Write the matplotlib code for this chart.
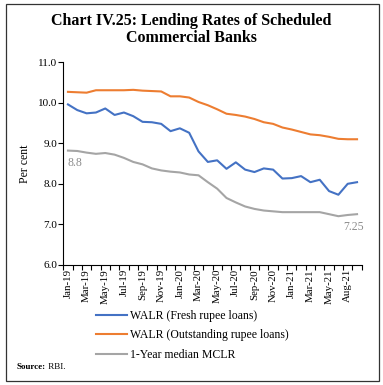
import matplotlib.pyplot as plt

# months on the category axis (the source chart has no Jul-21 point)
months = ['Jan-19', 'Feb-19', 'Mar-19', 'Apr-19', 'May-19', 'Jun-19', 'Jul-19', 'Aug-19',
          'Sep-19', 'Oct-19', 'Nov-19', 'Dec-19', 'Jan-20', 'Feb-20', 'Mar-20', 'Apr-20',
          'May-20', 'Jun-20', 'Jul-20', 'Aug-20', 'Sep-20', 'Oct-20', 'Nov-20', 'Dec-20',
          'Jan-21', 'Feb-21', 'Mar-21', 'Apr-21', 'May-21', 'Jun-21', 'Aug-21', 'Sep-21']

walr_fresh = [9.96, 9.82, 9.74, 9.76, 9.86, 9.70, 9.76, 9.67, 9.53, 9.52, 9.48, 9.30,
              9.37, 9.26, 8.80, 8.54, 8.58, 8.37, 8.53, 8.35, 8.29, 8.38, 8.35, 8.13,
              8.14, 8.19, 8.04, 8.10, 7.82, 7.73, 8.00, 8.04]

walr_outstanding = [10.27, 10.26, 10.25, 10.31, 10.31, 10.31, 10.31, 10.32, 10.30, 10.29,
                    10.28, 10.16, 10.16, 10.13, 10.02, 9.94, 9.84, 9.73, 9.70, 9.66,
                    9.60, 9.52, 9.48, 9.39, 9.34, 9.28, 9.22, 9.20, 9.16, 9.11, 9.10, 9.10]

mclr = [8.82, 8.81, 8.77, 8.74, 8.76, 8.72, 8.64, 8.54, 8.48, 8.38, 8.33, 8.30,
        8.28, 8.23, 8.21, 8.04, 7.88, 7.65, 7.54, 7.44, 7.38, 7.34, 7.32, 7.30,
        7.30, 7.30, 7.30, 7.30, 7.25, 7.20, 7.23, 7.25]

labels = ['WALR (Fresh rupee loans)', 'WALR (Outstanding rupee loans)', '1-Year median MCLR']
colors = ['#4472C4', '#ED7D31', '#A5A5A5']

SERIF = 'Liberation Serif'


def main():
    plt.rcParams['font.family'] = SERIF
    fig = plt.figure(figsize=(3.83, 3.85), dpi=100)
    ax = fig.add_axes([63.3 / 383, 1 - 264.8 / 385, (361.7 - 63.3) / 383, (264.8 - 62.3) / 385])

    x = list(range(len(months)))
    for series, lab, col in zip([walr_fresh, walr_outstanding, mclr], labels, colors):
        ax.plot(x, series, color=col, lw=1.5, label=lab)

    # end labels on the MCLR line
    ax.text(x[0] - 0.1, mclr[0] - 0.17, f'{mclr[0]:.1f}', color='#8c8c8c', fontsize=8.5,
            ha='left', va='top')
    ax.text(x[-1] + 0.7, mclr[-1] - 0.17, f'{mclr[-1]:.2f}', color='#8c8c8c', fontsize=8.5,
            ha='right', va='top')

    ax.set_xlim(-0.5, len(months) - 0.5)
    ax.set_ylim(6.0, 11.0)
    ax.set_yticks([6, 7, 8, 9, 10, 11])
    ax.set_yticklabels([f'{v:.1f}' for v in [6, 7, 8, 9, 10, 11]], fontsize=8)

    # tick marks between categories, labels at every second month
    ax.set_xticks([i - 0.5 for i in range(len(months) + 1)])
    ax.set_xticklabels([])
    ax.set_xticks(x[::2], minor=True)
    ax.set_xticklabels(months[::2], minor=True, rotation=90, fontsize=7.8)
    ax.tick_params(axis='x', which='major', length=3.5, width=0.8)
    ax.tick_params(axis='x', which='minor', length=0, pad=3)
    ax.tick_params(axis='y', length=3.5, width=0.8, pad=1)

    for side in ['top', 'right']:
        ax.spines[side].set_visible(False)
    ax.spines['left'].set_linewidth(0.8)
    ax.spines['bottom'].set_linewidth(0.8)
    ax.set_ylabel('Per cent', fontsize=8.5, labelpad=5)

    fig.text(0.5, 1 - 13 / 385, 'Chart IV.25: Lending Rates of Scheduled\nCommercial Banks',
             ha='center', va='top', fontsize=11.5, fontweight='bold', linespacing=1.05)

    ax.legend(loc='upper left', bbox_to_anchor=(96 / 383, 1 - 310 / 385),
              bbox_transform=fig.transFigure, frameon=False, fontsize=8.5,
              handlelength=2.6, handletextpad=0.3, labelspacing=0.62,
              borderpad=0, borderaxespad=0)

    src = fig.text(17 / 383, 1 - 367 / 385, 'Source:', fontsize=6.5, fontweight='bold',
                   va='center')
    ax.annotate(' RBI.', xy=(1, 0.5), xycoords=src, fontsize=6.5, va='center',
                annotation_clip=False)

    # outer frame
    fig.patches.append(plt.Rectangle((5.5 / 383, 4.5 / 385), 373 / 383, 377 / 385,
                                     transform=fig.transFigure, fill=False,
                                     edgecolor='#333333', lw=0.9))

    fig.savefig('out.png', dpi=100)


if __name__ == '__main__':
    main()
